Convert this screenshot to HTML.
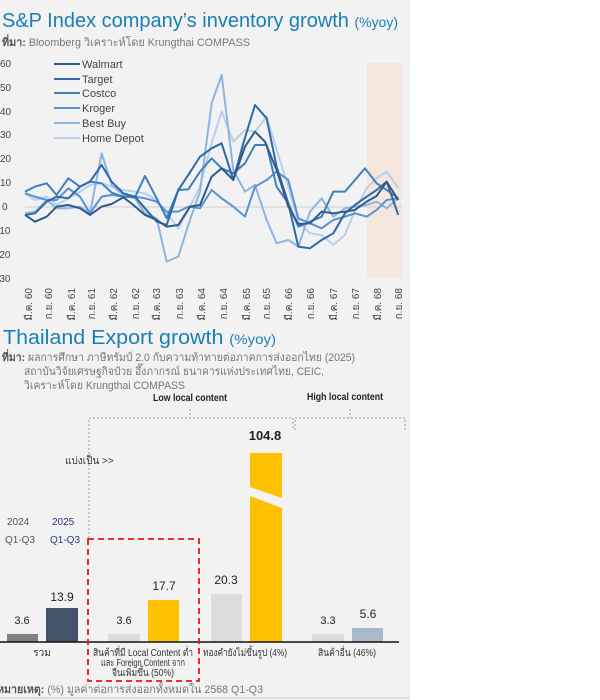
<!DOCTYPE html>
<html><head><meta charset="utf-8"><style>
html,body{margin:0;padding:0;background:#fff;width:600px;height:700px;overflow:hidden}
svg{display:block;font-family:"Liberation Sans","Noto Sans CJK SC",sans-serif}
</style></head><body>
<svg width="600" height="700" viewBox="0 0 600 700" xmlns="http://www.w3.org/2000/svg">
<rect x="0" y="0" width="410" height="700" fill="#f2f2f2"/>
<text x="2" y="27" font-size="20" fill="#1a7fb5" textLength="396" lengthAdjust="spacingAndGlyphs">S&amp;P Index company’s inventory growth <tspan font-size="14">(%yoy)</tspan></text>
<text x="2" y="46" font-size="11" fill="#777" textLength="248" lengthAdjust="spacingAndGlyphs"><tspan font-weight="bold" fill="#555">ที่มา:</tspan> Bloomberg  วิเคราะห์โดย Krungthai COMPASS</text>
<rect x="367" y="63" width="35" height="215" fill="#f6e7de"/>
<line x1="25" y1="207" x2="402" y2="207" stroke="#d0d0d0" stroke-width="1"/>
<g font-size="10" fill="#444">
<text x="0" y="67">60</text><text x="0" y="91">50</text><text x="0" y="115">40</text><text x="0" y="138">30</text><text x="0" y="162">20</text><text x="0" y="186">10</text><text x="2" y="210">0</text><text x="-4" y="234">-10</text><text x="-4" y="258">-20</text><text x="-4" y="282">-30</text>
</g>
<g transform="scale(0.3333)" fill="none" stroke-width="6" stroke-linejoin="round">
<polyline stroke="#b8d0ec" points="75,580 105,600 140,590 170,615 205,595 240,575 270,555 305,550 335,560 370,570 405,575 435,580 470,600 500,640 535,685 565,630 600,560 635,430 665,335 700,425 735,390 765,395 800,350 830,450 865,560 895,665 930,700 965,705 1000,735 1035,705 1065,630 1100,565 1130,535 1160,515 1195,565"/>
<polyline stroke="#8db4e2" points="75,640 105,635 140,600 170,625 205,625 240,620 270,640 305,460 335,555 370,585 405,595 435,640 470,655 500,785 535,770 565,675 600,575 635,310 665,225 700,510 735,575 765,555 800,660 830,730 865,720 895,740 930,635 965,595 1000,650 1035,625 1065,620 1100,615 1130,605 1160,625 1195,595"/>
<polyline stroke="#5a92cf" points="75,580 105,590 140,600 170,600 205,565 240,590 270,640 305,590 335,585 370,590 405,590 435,595 470,605 500,635 535,635 565,620 600,625 635,570 665,595 700,620 735,650 765,560 800,540 830,515 865,540 895,655 930,670 965,685 1000,660 1035,650 1065,640 1100,650 1130,630 1160,600 1195,595"/>
<polyline stroke="#3d80c0" points="75,575 105,560 140,550 170,585 205,535 240,560 270,545 305,550 335,578 370,590 405,592 435,528 470,595 500,655 535,570 565,568 600,515 635,475 665,505 700,520 735,490 765,435 800,435 830,560 865,610 895,680 930,665 965,650 1000,575 1035,575 1065,540 1095,505 1130,550 1160,570 1195,595"/>
<polyline stroke="#2e6aa8" points="75,645 105,640 140,605 170,590 205,595 240,560 270,545 305,495 335,545 370,580 405,590 435,625 470,665 500,675 535,570 565,525 600,470 635,445 665,430 700,540 730,430 765,315 800,355 830,500 865,610 895,740 930,745 965,720 1000,700 1035,640 1065,615 1100,590 1130,570 1160,545 1195,645"/>
<polyline stroke="#2f5b8a" points="75,645 105,665 140,650 170,620 205,615 240,625 270,645 305,620 335,612 370,592 400,615 435,645 470,660 500,680 535,675 570,620 600,615 635,530 665,505 700,540 735,440 765,395 795,425 830,510 865,620 895,672 930,670 965,635 1000,640 1035,635 1065,630 1100,605 1130,588 1160,545 1195,600"/>
</g>
<g stroke-width="2">
<line x1="54" y1="64" x2="80" y2="64" stroke="#2f5b8a"/><line x1="54" y1="79" x2="80" y2="79" stroke="#2e6aa8"/><line x1="54" y1="93" x2="80" y2="93" stroke="#3d80c0"/><line x1="54" y1="108" x2="80" y2="108" stroke="#5a92cf"/><line x1="54" y1="123" x2="80" y2="123" stroke="#8db4e2"/><line x1="54" y1="138" x2="80" y2="138" stroke="#b8d0ec"/>
</g>
<g font-size="11" fill="#444">
<text x="82" y="68">Walmart</text><text x="82" y="83">Target</text><text x="82" y="97">Costco</text><text x="82" y="112">Kroger</text><text x="82" y="127">Best Buy</text><text x="82" y="142">Home Depot</text>
</g>
<g font-size="10" fill="#444" text-anchor="end">
<text transform="translate(32,288) rotate(-90)">มี.ค. 60</text>
<text transform="translate(52,288) rotate(-90)">ก.ย. 60</text>
<text transform="translate(75,288) rotate(-90)">มี.ค. 61</text>
<text transform="translate(95,288) rotate(-90)">ก.ย. 61</text>
<text transform="translate(117,288) rotate(-90)">มี.ค. 62</text>
<text transform="translate(139,288) rotate(-90)">ก.ย. 62</text>
<text transform="translate(160,288) rotate(-90)">มี.ค. 63</text>
<text transform="translate(183,288) rotate(-90)">ก.ย. 63</text>
<text transform="translate(205,288) rotate(-90)">มี.ค. 64</text>
<text transform="translate(227,288) rotate(-90)">ก.ย. 64</text>
<text transform="translate(250,288) rotate(-90)">มี.ค. 65</text>
<text transform="translate(270,288) rotate(-90)">ก.ย. 65</text>
<text transform="translate(292,288) rotate(-90)">มี.ค. 66</text>
<text transform="translate(314,288) rotate(-90)">ก.ย. 66</text>
<text transform="translate(337,288) rotate(-90)">มี.ค. 67</text>
<text transform="translate(359,288) rotate(-90)">ก.ย. 67</text>
<text transform="translate(381,288) rotate(-90)">มี.ค. 68</text>
<text transform="translate(402,288) rotate(-90)">ก.ย. 68</text>
</g>
<text x="3" y="344" font-size="20" fill="#1a7fb5" textLength="273" lengthAdjust="spacingAndGlyphs">Thailand Export growth <tspan font-size="14">(%yoy)</tspan></text>
<g font-size="11" fill="#777">
<text x="2" y="361" textLength="353" lengthAdjust="spacingAndGlyphs"><tspan font-weight="bold" fill="#555">ที่มา:</tspan> ผลการศึกษา ภาษีทรัมป์ 2.0 กับความท้าทายต่อภาคการส่งออกไทย (2025)</text>
<text x="24" y="375" textLength="300" lengthAdjust="spacingAndGlyphs">สถาบันวิจัยเศรษฐกิจป๋วย อึ๊งภากรณ์ ธนาคารแห่งประเทศไทย, CEIC,</text>
<text x="24" y="389" textLength="161" lengthAdjust="spacingAndGlyphs">วิเคราะห์โดย Krungthai COMPASS</text>
</g>
<g font-size="10" font-weight="bold" fill="#222">
<text x="153" y="401" textLength="74" lengthAdjust="spacingAndGlyphs">Low local content</text><text x="307" y="400" textLength="76" lengthAdjust="spacingAndGlyphs">High local content</text>
</g>
<g stroke="#999" stroke-width="1" stroke-dasharray="2,2" fill="none">
<polyline points="89,538 89,418 293,418 293,430"/>
<line x1="190" y1="409" x2="190" y2="418"/>
<polyline points="295,430 295,418 405,418 405,430"/>
<line x1="350" y1="409" x2="350" y2="418"/>
</g>
<text x="65" y="464" font-size="10" fill="#333">แบ่งเป็น &gt;&gt;</text>
<g font-size="10">
<text x="7" y="525" fill="#555">2024</text><text x="5" y="543" fill="#555">Q1-Q3</text>
<text x="52" y="525" fill="#2a3580">2025</text><text x="50" y="543" fill="#2a3580">Q1-Q3</text>
</g>
<rect x="7" y="634" width="31" height="8" fill="#808080"/>
<rect x="46" y="608" width="32" height="34" fill="#44546a"/>
<rect x="108" y="634" width="32" height="8" fill="#dcdcdc"/>
<rect x="148" y="600" width="31" height="42" fill="#ffc000"/>
<rect x="211" y="594" width="31" height="48" fill="#dcdcdc"/>
<rect x="250" y="453" width="32" height="189" fill="#ffc000"/>
<polygon points="250,487 282,498 282,508 250,496" fill="#f2f2f2"/>
<rect x="312" y="634" width="32" height="8" fill="#dcdcdc"/>
<rect x="352" y="628" width="31" height="14" fill="#aab8cc"/>
<line x1="0" y1="642" x2="399" y2="642" stroke="#111" stroke-width="1.5"/>
<g font-size="11" fill="#222" text-anchor="middle">
<text x="22" y="624">3.6</text>
<text x="62" y="601" font-size="12">13.9</text>
<text x="124" y="624">3.6</text>
<text x="164" y="590" font-size="12">17.7</text>
<text x="226" y="584" font-size="12">20.3</text>
<text x="265" y="440" font-size="13" font-weight="bold">104.8</text>
<text x="328" y="624">3.3</text>
<text x="368" y="618" font-size="12">5.6</text>
</g>
<g font-size="10" fill="#333" text-anchor="middle">
<text x="42" y="656">รวม</text>
<text x="143" y="656" textLength="100" lengthAdjust="spacingAndGlyphs">สินค้าที่มี Local Content ต่ำ</text>
<text x="143" y="666" textLength="84" lengthAdjust="spacingAndGlyphs">และ Foreign Content จาก</text>
<text x="143" y="676" textLength="62" lengthAdjust="spacingAndGlyphs">จีนเพิ่มขึ้น (50%)</text>
<text x="245" y="656" textLength="84" lengthAdjust="spacingAndGlyphs">ทองคำยังไม่ขึ้นรูป (4%)</text>
<text x="347" y="656" textLength="58" lengthAdjust="spacingAndGlyphs">สินค้าอื่น (46%)</text>
</g>
<rect x="88" y="539" width="111" height="142" fill="none" stroke="#e8131b" stroke-width="1.8" stroke-dasharray="6,4"/>
<text x="-3" y="693" font-size="11" fill="#777" textLength="266" lengthAdjust="spacingAndGlyphs"><tspan font-weight="bold" fill="#555">หมายเหตุ:</tspan> (%) มูลค่าต่อการส่งออกทั้งหมดใน 2568 Q1-Q3</text>
<line x1="0" y1="698" x2="410" y2="698" stroke="#ccc"/>
</svg>
</body></html>
